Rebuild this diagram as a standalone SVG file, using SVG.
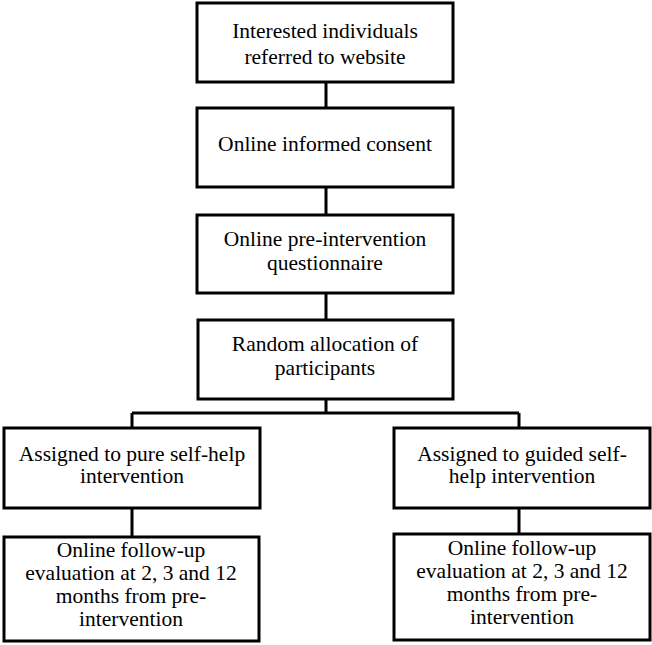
<svg xmlns="http://www.w3.org/2000/svg" width="652" height="645" viewBox="0 0 652 645">
<style>
rect{fill:#fff;stroke:#000;stroke-width:3}
text{font-family:"Liberation Serif","DejaVu Serif",serif;font-size:21.5px;text-anchor:middle;fill:#000}
.c{stroke:#000;stroke-width:3;fill:none}
</style>
<rect x="0" y="0" width="652" height="645" style="stroke:none"/>
<g id="connectors">
<path class="c" d="M326 82V108M326 187V215M326 293V320M326 399V413M132 413H519M132 413V428M519 413V428M132 508V537M519 508V534"/>
</g>
<g id="n1" font-family="Liberation Serif"><rect x="197" y="3" width="256" height="79"/><text x="325" y="38">Interested individuals</text><text x="325" y="64">referred to website</text></g>
<g id="n2"><rect x="197" y="108" width="256" height="79"/><text x="325" y="151">Online informed consent</text></g>
<g id="n3"><rect x="197" y="215" width="256" height="78"/><text x="325" y="246">Online pre-intervention</text><text x="325" y="270">questionnaire</text></g>
<g id="n4"><rect x="198" y="320" width="255" height="79"/><text x="325" y="351">Random allocation of</text><text x="325" y="375">participants</text></g>
<g id="n5"><rect x="4" y="428" width="256" height="80"/><text x="132" y="461">Assigned to pure self-help</text><text x="132" y="483">intervention</text></g>
<g id="n6"><rect x="394" y="428" width="256" height="80"/><text x="522" y="461">Assigned to guided self-</text><text x="522" y="483">help intervention</text></g>
<g id="n7"><rect x="4" y="537" width="255" height="104"/><text x="131" y="557">Online follow-up</text><text x="131" y="580">evaluation at 2, 3 and 12</text><text x="131" y="603">months from pre-</text><text x="131" y="626">intervention</text></g>
<g id="n8"><rect x="394" y="534" width="256" height="106"/><text x="522" y="555">Online follow-up</text><text x="522" y="578">evaluation at 2, 3 and 12</text><text x="522" y="601">months from pre-</text><text x="522" y="624">intervention</text></g>
</svg>
